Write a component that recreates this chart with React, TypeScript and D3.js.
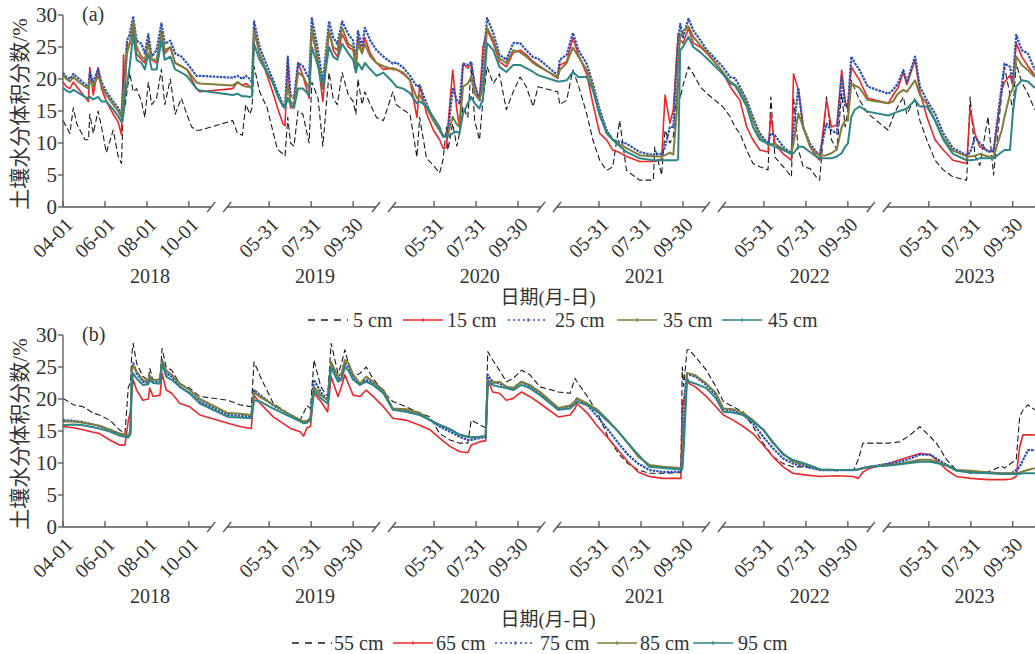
import React from "react";
import * as d3 from "d3";

type Row = [string, number | null, number | null, number | null, number | null, number | null];

const YEARS = [2018, 2019, 2020, 2021, 2022, 2023];
const TICKS_FIRST = ["04-01", "06-01", "08-01", "10-01"];
const TICKS_OTHER = ["05-31", "07-31", "09-30"];
const Y_TICKS = [0, 5, 10, 15, 20, 25, 30];
const LEGEND_A = ["5 cm", "15 cm", "25 cm", "35 cm", "45 cm"];
const LEGEND_B = ["55 cm", "65 cm", "75 cm", "85 cm", "95 cm"];
const Y_TITLE = "土壤水分体积分数/%";
const X_TITLE = "日期(月-日)";

// Panel (a): date, 5cm, 15cm, 25cm, 35cm, 45cm
const a2018: Row[] = [
  ["04-01", 13.5, 19.5, 21.0, 20.6, 18.6], ["04-06", 12.5, 18.8, 20.3, 20.0, 18.2],
  ["04-11", 11.5, 18.5, 20.0, 19.6, 17.9], ["04-16", 15.5, 19.5, 20.8, 20.3, 18.3],
  ["04-21", 13.0, 18.8, 20.3, 19.8, 18.0], ["05-03", 10.5, 17.2, 19.2, 18.8, 17.2],
  ["05-08", 10.5, 16.5, 18.8, 18.5, 17.0], ["05-10", 14.5, 21.8, 21.0, 19.8, 17.2],
  ["05-15", 11.5, 17.5, 19.5, 18.8, 16.8], ["05-22", 15.0, 21.8, 21.5, 20.5, 17.2],
  ["05-27", 12.5, 18.5, 19.5, 19.0, 16.5], ["06-03", 8.5, 16.5, 18.0, 17.5, 16.5],
  ["06-13", 12.0, 14.5, 16.5, 16.0, 15.2], ["06-20", 8.0, 13.3, 15.5, 15.0, 14.2],
  ["06-25", 6.8, 11.3, 14.5, 14.0, 13.3], ["06-28", 17.0, 23.8, 20.0, 18.0, 14.5],
  ["06-30", 15.5, 17.5, 20.5, 19.5, 17.5], ["07-03", 18.0, 25.5, 26.0, 24.0, 19.0],
  ["07-07", 21.0, 25.5, 27.0, 25.5, 22.0], ["07-12", 18.0, 28.0, 29.8, 29.0, 27.0],
  ["07-17", 18.5, 24.0, 26.0, 25.0, 23.0], ["07-24", 16.5, 23.0, 25.5, 23.5, 22.5],
  ["07-29", 14.0, 22.5, 24.0, 23.0, 21.5], ["08-03", 19.5, 26.0, 27.0, 25.5, 24.0],
  ["08-08", 16.0, 23.0, 23.5, 23.0, 21.5], ["08-15", 17.0, 22.5, 24.5, 23.0, 21.5],
  ["08-22", 21.5, 27.5, 28.7, 27.3, 26.0], ["08-27", 16.0, 24.0, 25.5, 24.5, 23.0],
  ["09-04", 20.0, 25.0, 26.0, 25.0, 23.5], ["09-11", 14.5, 22.5, 24.0, 22.5, 21.5],
  ["09-20", 17.0, 22.0, 23.5, 22.0, 21.0], ["09-28", 14.5, 21.5, 22.5, 21.5, 20.5],
  ["10-05", 12.5, 20.0, 21.5, 20.5, 19.5], ["10-12", 12.0, 18.5, 20.5, 19.5, 18.5],
  ["10-17", 12.0, 18.0, 20.5, 19.3, 18.2],
];
const a2019: Row[] = [
  ["04-08", 13.5, 18.5, 20.2, 19.0, 17.5], ["04-15", 11.5, 19.5, 20.5, 19.5, 17.7],
  ["04-22", 11.2, 19.0, 20.0, 19.0, 17.3], ["04-27", 16.0, 19.3, 20.5, 18.8, 17.3],
  ["05-03", 14.5, 18.8, 20.0, 18.8, 17.2], ["05-06", 15.5, 18.5, 19.5, 18.5, 17.3],
  ["05-09", 22.0, 28.0, 29.0, 27.5, 25.5], ["05-17", 18.0, 24.0, 25.0, 24.0, 23.0],
  ["05-28", 15.5, 20.5, 22.0, 21.0, 21.0], ["06-05", 12.0, 18.0, 20.0, 19.5, 19.5],
  ["06-12", 9.0, 15.5, 18.0, 17.5, 17.5], ["06-20", 8.3, 13.0, 16.0, 15.8, 15.7],
  ["06-23", 8.0, 12.7, 15.5, 15.5, 15.5], ["06-27", 14.0, 23.0, 23.5, 19.0, 17.0],
  ["07-01", 10.0, 15.5, 17.5, 16.5, 16.0], ["07-06", 9.5, 15.5, 17.0, 16.0, 15.5],
  ["07-12", 15.0, 22.5, 22.5, 21.0, 18.5], ["07-19", 14.5, 20.5, 22.0, 20.5, 18.5],
  ["07-28", 10.0, 17.0, 20.0, 18.5, 17.5], ["08-01", 19.5, 27.5, 29.5, 28.0, 25.0],
  ["08-10", 17.0, 22.5, 24.5, 23.0, 22.0], ["08-17", 9.5, 16.5, 19.5, 18.5, 18.5],
  ["08-26", 21.0, 27.5, 29.0, 27.5, 25.0], ["09-01", 17.0, 24.5, 26.5, 25.0, 23.5],
  ["09-07", 16.0, 23.5, 25.5, 24.5, 23.0], ["09-14", 21.0, 27.0, 29.0, 28.0, 25.5],
  ["09-23", 17.5, 25.0, 27.0, 25.5, 24.0], ["09-30", 16.5, 24.5, 26.0, 25.0, 23.0],
  ["10-04", 14.5, 21.5, 22.5, 22.0, 21.0], ["10-07", 20.0, 26.5, 27.5, 25.5, 22.5],
  ["10-13", 16.0, 24.0, 25.0, 24.0, 21.5], ["10-17", 18.0, 26.5, 28.0, 25.5, 22.5],
  ["10-25", 16.0, 24.0, 26.0, 23.5, 21.5], ["11-03", 14.0, 22.5, 24.5, 22.5, 20.5],
  ["11-13", 13.5, 21.5, 23.5, 22.0, 21.0],
];
const a2020: Row[] = [
  ["04-01", 18.0, 21.7, 22.4, 21.5, 19.5], ["04-06", 16.0, 21.5, 22.6, 21.5, 18.8],
  ["04-16", 15.2, 20.8, 21.8, 21.0, 18.5], ["04-26", 14.5, 19.8, 20.5, 19.8, 17.8],
  ["05-06", 7.8, 14.0, 18.8, 17.0, 16.2], ["05-10", 14.0, 19.1, 19.0, 17.5, 16.5],
  ["05-20", 7.6, 14.6, 16.2, 15.5, 15.7], ["05-30", 6.5, 12.0, 13.6, 13.5, 14.0],
  ["06-08", 5.3, 10.5, 12.0, 12.0, 12.5], ["06-13", 7.4, 9.2, 11.2, 11.0, 11.0],
  ["06-18", 12.5, 9.3, 11.0, 11.0, 11.0], ["06-20", 8.9, 12.5, 11.5, 11.2, 11.0],
  ["06-27", 13.0, 21.4, 18.6, 14.1, 11.5], ["07-03", 9.5, 15.2, 16.7, 12.9, 11.8],
  ["07-07", 11.5, 12.5, 16.2, 12.5, 11.5], ["07-12", 15.7, 22.4, 22.4, 18.8, 14.6],
  ["07-19", 14.0, 21.7, 22.2, 19.3, 16.2], ["07-24", 21.9, 22.4, 22.7, 20.3, 17.2],
  ["07-29", 13.5, 19.3, 18.8, 17.7, 16.2], ["08-05", 10.5, 16.7, 16.7, 16.7, 15.4],
  ["08-10", 16.7, 25.0, 22.0, 19.0, 17.0], ["08-16", 21.9, 27.7, 29.5, 28.0, 25.6],
  ["08-25", 19.3, 25.6, 27.2, 26.1, 24.5], ["09-03", 20.8, 22.7, 23.8, 23.2, 21.9],
  ["09-13", 15.2, 21.9, 23.0, 22.5, 21.1], ["09-23", 18.0, 24.1, 25.6, 24.5, 22.2],
  ["10-03", 20.3, 24.5, 25.6, 24.2, 22.2], ["10-12", 18.8, 23.8, 24.5, 23.5, 21.7],
  ["10-22", 15.7, 22.7, 23.4, 22.5, 21.1], ["10-29", 18.8, 22.2, 23.2, 22.0, 20.6],
];
const a2021: Row[] = [
  ["04-01", 18.0, 20.1, 20.6, 20.3, 19.6], ["04-04", 16.0, 22.2, 23.0, 21.4, 19.6],
  ["04-14", 16.7, 22.7, 23.8, 22.5, 19.8], ["04-23", 21.4, 26.4, 27.2, 24.9, 21.1],
  ["05-01", 19.0, 23.8, 24.5, 23.5, 20.3], ["05-13", 14.6, 20.8, 22.4, 21.4, 20.3],
  ["05-22", 10.5, 16.2, 19.3, 18.8, 18.3], ["06-01", 7.3, 11.5, 15.2, 14.6, 14.3],
  ["06-11", 5.7, 10.5, 12.0, 11.5, 11.7], ["06-20", 6.3, 8.9, 10.5, 10.5, 10.5],
  ["06-30", 13.5, 8.5, 10.2, 9.8, 9.5], ["07-10", 5.7, 7.9, 9.9, 9.2, 8.6],
  ["07-29", 4.2, 7.1, 8.6, 8.1, 7.6], ["08-18", 4.2, 7.1, 8.1, 7.9, 7.3],
  ["08-20", 9.4, 7.1, 8.3, 7.9, 7.3], ["08-30", 5.0, 7.5, 8.3, 7.9, 7.3],
  ["09-04", 12.0, 17.5, 9.4, 8.1, 7.3], ["09-11", 10.0, 13.1, 12.5, 8.5, 7.3],
  ["09-16", 11.0, 15.2, 12.5, 8.2, 7.3], ["09-21", 18.0, 23.5, 23.0, 15.0, 7.3],
  ["09-23", 20.0, 27.1, 26.0, 23.0, 7.5], ["09-26", 17.0, 26.1, 28.6, 26.6, 24.5],
  ["09-30", 19.0, 25.6, 26.5, 27.5, 25.0], ["10-08", 21.9, 27.9, 29.4, 28.2, 26.6],
  ["10-15", 20.8, 25.6, 27.6, 26.6, 25.0], ["10-25", 18.8, 25.0, 26.1, 25.3, 24.2],
  ["11-04", 17.7, 24.0, 24.5, 24.2, 23.2],
];
const a2022: Row[] = [
  ["04-01", 15.7, 21.1, 21.9, 21.1, 20.8], ["04-12", 14.1, 18.8, 20.3, 19.6, 19.3],
  ["04-19", 12.5, 17.7, 20.1, 19.1, 19.0], ["04-26", 11.5, 16.7, 18.8, 18.3, 17.7],
  ["05-06", 8.9, 12.5, 16.7, 16.2, 15.7], ["05-15", 6.8, 10.5, 14.1, 13.5, 12.5],
  ["05-25", 6.3, 8.9, 11.5, 11.0, 10.5], ["06-06", 5.8, 8.6, 9.9, 9.7, 9.9],
  ["06-10", 17.2, 14.4, 11.5, 9.8, 9.7], ["06-16", 7.8, 9.9, 11.2, 9.9, 9.4],
  ["06-28", 6.3, 8.3, 9.4, 9.0, 8.9], ["07-10", 4.7, 7.3, 8.4, 8.3, 8.3],
  ["07-13", 17.2, 20.8, 12.0, 10.0, 8.4], ["07-20", 9.0, 18.3, 18.6, 14.6, 9.4],
  ["07-27", 6.3, 12.5, 12.5, 12.5, 9.4], ["08-06", 6.0, 9.4, 9.9, 9.5, 8.6],
  ["08-15", 4.7, 7.9, 8.6, 8.4, 7.9], ["08-20", 4.2, 7.3, 8.3, 8.0, 7.6],
  ["08-30", 17.2, 16.7, 13.0, 8.1, 7.6], ["09-06", 10.5, 12.5, 12.0, 8.4, 7.6],
  ["09-14", 9.0, 12.8, 11.5, 9.0, 7.9], ["09-21", 17.7, 21.4, 20.3, 12.5, 8.4],
  ["09-26", 12.5, 16.7, 15.7, 13.5, 9.4], ["09-30", 15.0, 15.2, 15.7, 13.5, 9.9],
  ["10-05", 19.8, 21.9, 23.5, 19.3, 14.1], ["10-10", 18.5, 21.0, 22.5, 19.0, 15.2],
  ["10-17", 16.7, 19.8, 21.4, 18.6, 15.7], ["10-29", 14.6, 17.0, 18.8, 16.7, 14.9],
];
const a2023: Row[] = [
  ["04-02", 12.0, 16.2, 17.7, 16.2, 14.3], ["04-09", 14.1, 17.5, 18.3, 16.5, 14.6],
  ["04-16", 15.7, 18.6, 19.3, 17.7, 14.9], ["04-24", 17.2, 21.1, 21.4, 18.3, 15.2],
  ["04-29", 14.5, 19.1, 19.5, 18.0, 15.4], ["05-11", 17.0, 23.0, 23.5, 19.8, 16.7],
  ["05-18", 13.5, 18.0, 18.8, 17.5, 15.7], ["05-28", 10.5, 14.1, 16.7, 16.2, 15.7],
  ["06-09", 7.3, 10.5, 14.6, 13.5, 13.5], ["06-21", 5.8, 8.9, 11.5, 10.8, 10.5],
  ["07-05", 4.7, 7.3, 9.2, 8.8, 8.3], ["07-25", 4.2, 6.8, 8.1, 7.9, 7.3],
  ["07-30", 17.2, 15.4, 8.5, 7.9, 7.3], ["08-06", 8.0, 11.5, 10.9, 8.0, 7.4],
  ["08-13", 6.5, 9.4, 10.0, 8.3, 7.6], ["08-25", 14.1, 8.8, 8.6, 7.9, 7.6],
  ["09-02", 5.0, 8.6, 8.8, 7.9, 7.6], ["09-14", 17.7, 18.3, 19.0, 12.0, 8.6],
  ["09-18", 21.9, 19.5, 22.4, 14.1, 8.9], ["09-26", 17.5, 20.6, 21.9, 17.7, 8.9],
  ["09-30", 15.0, 19.0, 19.5, 18.5, 14.6], ["10-05", 22.4, 25.6, 26.9, 23.5, 18.8],
  ["10-13", 19.5, 23.5, 24.5, 22.2, 19.8], ["10-22", 17.7, 22.0, 24.0, 21.4, 19.6],
  ["11-01", 15.2, 20.6, 21.4, 20.3, 18.6],
];

// Panel (b): date, 55cm, 65cm, 75cm, 85cm, 95cm
const b2018: Row[] = [
  ["04-01", 20.1, 15.7, 16.7, 16.5, 15.9], ["04-16", 19.1, 15.5, 16.6, 16.5, 16.0],
  ["04-30", 18.8, 15.2, 16.4, 16.3, 15.9], ["05-15", 17.8, 14.8, 16.0, 16.0, 15.6],
  ["05-24", 17.5, 14.6, 15.8, 15.8, 15.4], ["06-08", 16.7, 13.6, 15.2, 15.2, 14.9],
  ["06-22", 15.2, 12.8, 14.6, 14.6, 14.3], ["06-30", 14.6, 12.8, 14.4, 14.4, 14.1],
  ["07-05", 21.9, 16.7, 14.3, 14.3, 14.0], ["07-08", 22.5, 18.0, 15.0, 14.8, 14.5],
  ["07-10", 27.0, 21.0, 24.5, 24.5, 22.5], ["07-12", 28.7, 23.0, 25.6, 25.3, 24.0],
  ["07-17", 25.6, 21.4, 24.0, 24.3, 23.2], ["07-26", 23.5, 19.8, 22.7, 23.0, 22.2],
  ["08-03", 23.0, 20.0, 22.5, 22.7, 22.3], ["08-05", 24.8, 21.7, 23.5, 23.7, 23.0],
  ["08-10", 23.0, 20.4, 22.7, 23.0, 22.5], ["08-20", 23.2, 20.6, 22.7, 23.0, 22.4],
  ["08-23", 27.9, 24.0, 26.1, 26.0, 25.6], ["08-29", 25.0, 21.4, 24.0, 24.5, 23.5],
  ["09-06", 24.5, 20.9, 23.5, 23.8, 23.0], ["09-18", 22.4, 19.3, 21.9, 22.4, 21.9],
  ["10-02", 21.7, 18.8, 20.9, 21.4, 20.9], ["10-17", 20.4, 17.5, 19.6, 20.0, 19.3],
];
const b2019: Row[] = [
  ["04-01", 19.8, 16.2, 17.5, 17.8, 17.2], ["04-18", 19.1, 15.7, 17.4, 17.7, 17.1],
  ["05-05", 18.8, 15.4, 17.2, 17.5, 17.0], ["05-09", 25.8, 20.6, 21.4, 21.0, 19.8],
  ["05-18", 23.5, 19.3, 20.6, 20.3, 19.6], ["06-06", 19.3, 17.2, 19.0, 19.1, 18.5],
  ["07-01", 17.5, 15.4, 17.5, 17.5, 17.2], ["07-15", 16.7, 14.9, 16.7, 16.7, 16.5],
  ["07-20", 17.8, 14.2, 16.4, 16.5, 16.2], ["07-25", 19.0, 15.5, 16.5, 16.6, 16.3],
  ["07-30", 18.5, 15.7, 17.0, 17.0, 16.7], ["08-04", 26.1, 20.9, 23.0, 21.9, 21.4],
  ["08-14", 21.9, 19.6, 21.1, 20.6, 20.1], ["08-24", 20.4, 18.0, 19.8, 19.8, 19.3],
  ["08-29", 28.7, 23.5, 25.6, 25.8, 25.0], ["09-08", 24.0, 20.4, 23.0, 23.5, 22.7],
  ["09-13", 25.5, 21.9, 23.5, 24.0, 23.0], ["09-18", 27.7, 23.8, 25.6, 26.1, 25.0],
  ["09-23", 25.6, 22.4, 25.0, 25.6, 24.5], ["09-30", 23.5, 20.6, 23.5, 23.8, 23.0],
  ["10-10", 24.0, 20.4, 22.2, 22.4, 22.2], ["10-19", 25.0, 21.4, 23.0, 23.5, 22.7],
  ["10-29", 23.2, 20.4, 22.4, 22.7, 22.2], ["11-13", 21.1, 18.8, 21.1, 21.4, 20.9],
];
const b2020: Row[] = [
  ["04-01", 19.6, 17.0, 18.4, 18.5, 18.3], ["04-20", 18.8, 16.7, 18.3, 18.4, 18.0],
  ["05-10", 17.8, 15.9, 17.8, 17.8, 17.5], ["05-25", 17.2, 15.2, 16.7, 16.7, 16.7],
  ["06-08", 14.6, 13.9, 15.7, 16.0, 15.9], ["06-23", 13.6, 12.6, 14.9, 15.3, 15.3],
  ["07-07", 13.1, 11.8, 14.1, 14.4, 14.4], ["07-19", 13.1, 11.6, 13.6, 14.1, 14.1],
  ["07-24", 16.7, 12.8, 13.6, 14.0, 14.0], ["08-05", 16.0, 13.3, 13.9, 14.1, 14.1],
  ["08-14", 15.5, 13.5, 14.0, 14.2, 14.2], ["08-17", 27.4, 23.0, 23.8, 23.0, 22.7],
  ["08-24", 26.1, 21.1, 22.7, 22.5, 22.2], ["09-03", 24.5, 20.9, 22.4, 22.7, 21.9],
  ["09-13", 22.7, 19.8, 21.9, 21.9, 21.7], ["09-23", 23.2, 20.1, 21.7, 21.7, 21.4],
  ["10-05", 24.5, 21.1, 22.7, 22.7, 22.2], ["10-17", 23.8, 20.4, 21.9, 22.2, 21.7],
  ["11-01", 21.9, 19.3, 20.9, 21.1, 20.6],
];
const b2021: Row[] = [
  ["04-02", 21.1, 17.2, 18.5, 18.6, 18.3], ["04-19", 20.9, 17.5, 18.8, 19.0, 18.5],
  ["04-26", 23.2, 18.5, 19.5, 19.6, 19.2], ["04-29", 22.7, 19.3, 20.1, 20.1, 19.6],
  ["05-14", 20.4, 17.8, 19.1, 19.3, 19.0], ["05-29", 17.8, 15.7, 17.2, 18.3, 18.0],
  ["06-13", 14.1, 13.9, 15.2, 16.7, 16.5], ["06-28", 11.5, 12.0, 13.1, 14.9, 14.9],
  ["07-12", 9.9, 10.2, 11.3, 13.1, 13.1], ["07-27", 8.9, 8.6, 9.9, 11.0, 11.3],
  ["08-12", 8.4, 7.9, 8.9, 9.7, 9.4], ["09-01", 8.4, 7.6, 8.6, 9.4, 9.2],
  ["09-27", 8.5, 7.6, 8.6, 9.2, 9.0], ["09-29", 25.0, 19.8, 12.0, 9.3, 9.0],
  ["10-01", 22.0, 19.3, 19.3, 15.0, 12.0], ["10-06", 27.7, 23.0, 24.0, 24.0, 23.2],
  ["10-09", 27.7, 22.4, 23.8, 24.0, 22.7], ["10-18", 26.6, 21.9, 23.5, 23.7, 22.4],
  ["11-03", 24.5, 20.4, 22.2, 22.4, 21.7], ["11-17", 21.9, 18.8, 20.6, 20.9, 20.1],
];
const b2022: Row[] = [
  ["04-02", 19.6, 17.5, 18.4, 18.5, 18.0], ["04-16", 18.8, 16.7, 18.2, 18.4, 17.9],
  ["05-01", 18.0, 15.7, 17.5, 17.8, 17.5], ["05-15", 15.7, 14.6, 16.2, 16.7, 16.5],
  ["05-30", 13.1, 12.8, 14.1, 15.2, 15.2], ["06-13", 11.0, 11.0, 12.3, 13.1, 13.3],
  ["06-28", 9.9, 9.4, 10.7, 11.5, 11.3], ["07-12", 9.4, 8.4, 9.9, 10.2, 10.5],
  ["08-01", 9.4, 8.1, 9.4, 9.7, 9.8], ["08-21", 8.9, 7.9, 8.9, 9.0, 9.0],
  ["09-14", 8.8, 8.0, 8.9, 8.9, 8.9], ["10-08", 8.9, 7.9, 8.9, 8.9, 8.9],
  ["10-15", 10.5, 7.6, 9.0, 9.0, 9.0], ["10-22", 13.1, 8.6, 9.2, 9.2, 9.2],
  ["11-01", 13.1, 9.2, 9.4, 9.4, 9.4],
];
const b2023: Row[] = [
  ["04-02", 13.1, 9.9, 9.9, 9.7, 9.6], ["04-19", 13.3, 10.5, 10.2, 9.9, 9.8],
  ["05-04", 14.4, 11.0, 10.7, 10.2, 10.0], ["05-18", 15.7, 11.5, 11.3, 10.5, 10.2],
  ["06-02", 14.1, 11.3, 11.3, 10.5, 10.2], ["06-11", 13.1, 10.5, 10.7, 10.2, 10.0],
  ["06-26", 10.5, 8.9, 9.7, 9.6, 9.6], ["07-10", 8.9, 7.9, 8.9, 8.9, 8.8],
  ["07-31", 8.4, 7.6, 8.6, 8.8, 8.5], ["08-25", 8.6, 7.4, 8.5, 8.5, 8.4],
  ["09-14", 9.5, 7.4, 8.4, 8.4, 8.3], ["09-18", 9.2, 7.4, 8.4, 8.4, 8.3],
  ["09-28", 10.0, 7.5, 8.4, 8.4, 8.3], ["10-05", 10.5, 7.9, 8.9, 8.4, 8.3],
  ["10-10", 17.2, 12.5, 9.4, 8.5, 8.3], ["10-15", 18.3, 14.4, 10.5, 8.7, 8.4],
  ["10-22", 19.1, 14.4, 12.0, 8.9, 8.4], ["11-01", 18.3, 14.4, 12.0, 9.2, 8.4],
];

const PANEL_A = [a2018, a2019, a2020, a2021, a2022, a2023];
const PANEL_B = [b2018, b2019, b2020, b2021, b2022, b2023];

const W = 1035;
const H = 654;
const X0 = 63;
const PX_PER_DAY = 0.688;
const SEG_DAYS = 239.7;
const BREAK_OFFSET = 227;
const FONT = "'Liberation Serif', 'Times New Roman', 'Noto Sans CJK SC', serif";
const AXIS_COLOR = "#555";

const STYLES = [
  { color: "#1a1a1a", width: 1.1, dash: "6,3" },
  { color: "#e8282b", width: 1.6, dash: undefined },
  { color: "#2a4fb5", width: 2.2, dash: "2.5,1" },
  { color: "#7f7c3c", width: 2, dash: undefined },
  { color: "#2d8585", width: 2, dash: undefined },
];

const xScale = d3
  .scaleLinear()
  .domain([0, 6 * SEG_DAYS])
  .range([X0, X0 + 6 * SEG_DAYS * PX_PER_DAY]);

function vday(yi: number, mmdd: string) {
  const [m, d] = mmdd.split("-").map(Number);
  const Y = YEARS[yi];
  return yi * SEG_DAYS + d3.timeDay.count(new Date(Y, 3, 1), new Date(Y, m - 1, d));
}

function seriesPoints(rows: Row[][], k: number) {
  const pts: { v: number; val: number | null }[] = [];
  rows.forEach((yr, yi) =>
    yr.forEach((r) => pts.push({ v: vday(yi, r[0]), val: r[k] as number | null }))
  );
  return pts;
}

type PanelProps = {
  rows: Row[][];
  top: number;
  bottom: number;
  tag: string;
  legend: string[];
  legendX: number[];
  legendTextX: number[];
  legendY: number;
  titleY: number;
};

function Panel({ rows, top, bottom, tag, legend, legendX, legendTextX, legendY, titleY }: PanelProps) {
  const y = d3.scaleLinear().domain([0, 30]).range([bottom, top]);
  const line = d3
    .line<{ v: number; val: number | null }>()
    .defined((d) => d.val != null)
    .x((d) => xScale(d.v))
    .y((d) => y(d.val as number));

  const breaks = [0, 1, 2, 3, 4].map((i) => xScale(i * SEG_DAYS + BREAK_OFFSET));
  const axisSegs: [number, number][] = [];
  let start = X0;
  breaks.forEach((c) => {
    axisSegs.push([start, c - 8]);
    start = c + 8;
  });
  axisSegs.push([start, W]);

  const xTicks: { x: number; label: string }[] = [];
  YEARS.forEach((_, yi) => {
    (yi === 0 ? TICKS_FIRST : TICKS_OTHER).forEach((t) =>
      xTicks.push({ x: xScale(vday(yi, t)), label: t })
    );
  });

  return (
    <g>
      <defs>
        <clipPath id={`clip-${tag}`}>
          <rect x={X0} y={top - 10} width={W - X0} height={bottom - top + 10} />
        </clipPath>
      </defs>
      <g clipPath={`url(#clip-${tag})`}>
        {STYLES.map((s, k) => (
          <path
            key={k}
            d={line(seriesPoints(rows, k + 1)) || ""}
            fill="none"
            stroke={s.color}
            strokeWidth={s.width}
            strokeDasharray={s.dash}
            strokeLinejoin="round"
          />
        ))}
      </g>
      <line x1={X0} x2={X0} y1={y(0)} y2={y(30)} stroke={AXIS_COLOR} strokeWidth={1.3} />
      {Y_TICKS.map((t) => (
        <g key={t}>
          <line x1={X0 - 5} x2={X0} y1={y(t)} y2={y(t)} stroke={AXIS_COLOR} strokeWidth={1.3} />
          <text x={X0 - 6} y={y(t) + 7} textAnchor="end" fontSize={21} fill="#333" fontFamily={FONT}>
            {t}
          </text>
        </g>
      ))}
      {axisSegs.map(([a, b], i) => (
        <line key={i} x1={a} x2={b} y1={bottom} y2={bottom} stroke={AXIS_COLOR} strokeWidth={1.3} />
      ))}
      {breaks.map((c, i) => (
        <g key={i}>
          {[c - 8, c + 8].map((s, j) => (
            <line key={j} x1={s - 4} x2={s + 4} y1={bottom + 5} y2={bottom - 5} stroke={AXIS_COLOR} strokeWidth={1.3} />
          ))}
        </g>
      ))}
      {xTicks.map((t, i) => (
        <g key={i}>
          <line x1={t.x} x2={t.x} y1={bottom} y2={bottom - 6} stroke={AXIS_COLOR} strokeWidth={1.3} />
          <text
            transform={`translate(${t.x + 11},${bottom + 19}) rotate(-45)`}
            textAnchor="end"
            fontSize={20}
            fill="#333"
            fontFamily={FONT}
          >
            {t.label}
          </text>
        </g>
      ))}
      {YEARS.map((yr, yi) => (
        <text key={yr} x={xScale(yi * SEG_DAYS + 126.5)} y={bottom + 76} textAnchor="middle" fontSize={20} fill="#333" fontFamily={FONT}>
          {yr}
        </text>
      ))}
      <text x={82} y={top + 6} fontSize={20} fill="#333" fontFamily={FONT}>
        {tag}
      </text>
      <text
        transform={`translate(27,${(top + bottom) / 2 + 3}) rotate(-90)`}
        textAnchor="middle"
        fontSize={21}
        fill="#333"
        fontFamily={FONT}
      >
        {Y_TITLE}
      </text>
      <text x={548} y={titleY} textAnchor="middle" fontSize={19} fill="#333" fontFamily={FONT}>
        {X_TITLE}
      </text>
      {legend.map((name, k) => {
        const s = STYLES[k];
        const x1 = legendX[k];
        const len = 40;
        return (
          <g key={name}>
            <line
              x1={x1}
              x2={x1 + len}
              y1={legendY - 7}
              y2={legendY - 7}
              stroke={s.color}
              strokeWidth={k === 0 ? 1.3 : 1.5}
              strokeDasharray={k === 0 ? "7,6" : k === 2 ? "2,3" : undefined}
            />
            {k > 0 && (
              <line x1={x1 + len / 2} x2={x1 + len / 2} y1={legendY - 9} y2={legendY - 5} stroke={s.color} strokeWidth={1} />
            )}
            <text x={legendTextX[k]} y={legendY} fontSize={20} fill="#333" fontFamily={FONT}>
              {name}
            </text>
          </g>
        );
      })}
    </g>
  );
}

export default function App() {
  return (
    <svg
      width={W}
      height={H}
      viewBox={`0 0 ${W} ${H}`}
      style={{ position: "absolute", left: 0, top: 0, background: "#fff" }}
    >
      <rect width={W} height={H} fill="#fff" />
      <Panel
        rows={PANEL_A}
        top={15}
        bottom={207}
        tag="(a)"
        legend={LEGEND_A}
        legendX={[308, 403, 508, 617, 722]}
        legendTextX={[353, 447, 555, 663, 768]}
        legendY={327}
        titleY={304}
      />
      <Panel
        rows={PANEL_B}
        top={335}
        bottom={527}
        tag="(b)"
        legend={LEGEND_B}
        legendX={[292, 393, 495, 597, 693]}
        legendTextX={[334, 436, 540, 640, 738]}
        legendY={650}
        titleY={626}
      />
    </svg>
  );
}
